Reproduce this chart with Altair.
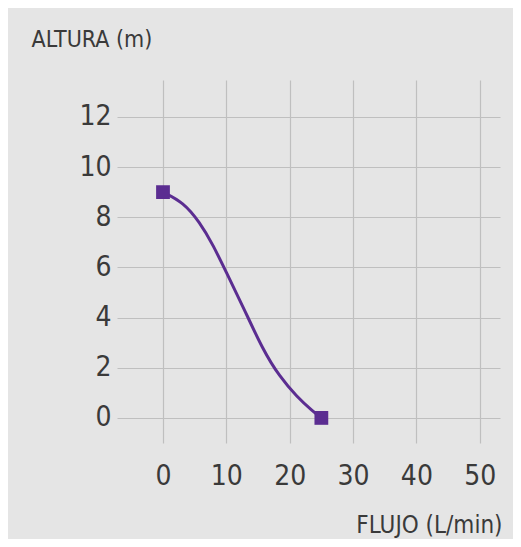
import altair as alt
import pandas as pd

# Curve
flow = [0, 3.2, 5.8, 7.9, 10.0, 12.7, 15.8, 18.4, 21.1, 23.7, 25]
height = [9, 8.6, 7.8, 6.9, 5.8, 4.4, 2.7, 1.65, 0.85, 0.25, 0]
# End markers
mark_flow = [0, 25]
mark_height = [9, 0]
x_ticks = [0, 10, 20, 30, 40, 50]
y_ticks = [0, 2, 4, 6, 8, 10, 12]

curve = pd.DataFrame({"flow": flow, "height": height})
ends = pd.DataFrame({"flow": mark_flow, "height": mark_height})

FONT = "DejaVu Sans Condensed"
TXT = "#3a3a3a"
PURPLE = "#5b2d91"

xs = alt.Scale(domain=[-7.26, 53.2], nice=False, zero=False)
ys = alt.Scale(domain=[-1.0, 13.47], nice=False, zero=False)

x_axis = alt.Axis(values=x_ticks, title="FLUJO (L/min)", domain=False, ticks=False,
                  grid=True, gridColor="#bfbfbf", gridWidth=1.2,
                  labelFont=FONT, labelFontSize=28, labelColor=TXT, labelPadding=19,
                  titleFont=FONT, titleFontSize=24, titleFontWeight="normal", titleColor=TXT,
                  titleAnchor="end", titleAlign="right", titleBaseline="bottom",
                  titleX=385, titleY=94)
y_axis = alt.Axis(values=y_ticks, title="ALTURA (m)", domain=False, ticks=False,
                  grid=True, gridColor="#bfbfbf", gridWidth=1.2,
                  labelFont=FONT, labelFontSize=28, labelColor=TXT, labelPadding=6,
                  titleFont=FONT, titleFontSize=23, titleFontWeight="normal", titleColor=TXT,
                  titleAngle=0, titleAlign="left", titleBaseline="bottom",
                  titleX=-86, titleY=-29)

line = alt.Chart(curve).mark_line(color=PURPLE, strokeWidth=3, interpolate="basis").encode(
    x=alt.X("flow:Q", scale=xs, axis=x_axis),
    y=alt.Y("height:Q", scale=ys, axis=y_axis),
)
pts = alt.Chart(ends).mark_square(color=PURPLE, size=190, opacity=1).encode(
    x=alt.X("flow:Q", scale=xs),
    y=alt.Y("height:Q", scale=ys),
)

chart = (line + pts).properties(
    width=383, height=363, autosize="none",
    padding={"left": 109, "top": 72, "right": 13, "bottom": 96},
    background="#e5e5e5",
).configure_view(stroke=None)

chart.save("out.html", embed_options={"renderer": "svg", "actions": False})
